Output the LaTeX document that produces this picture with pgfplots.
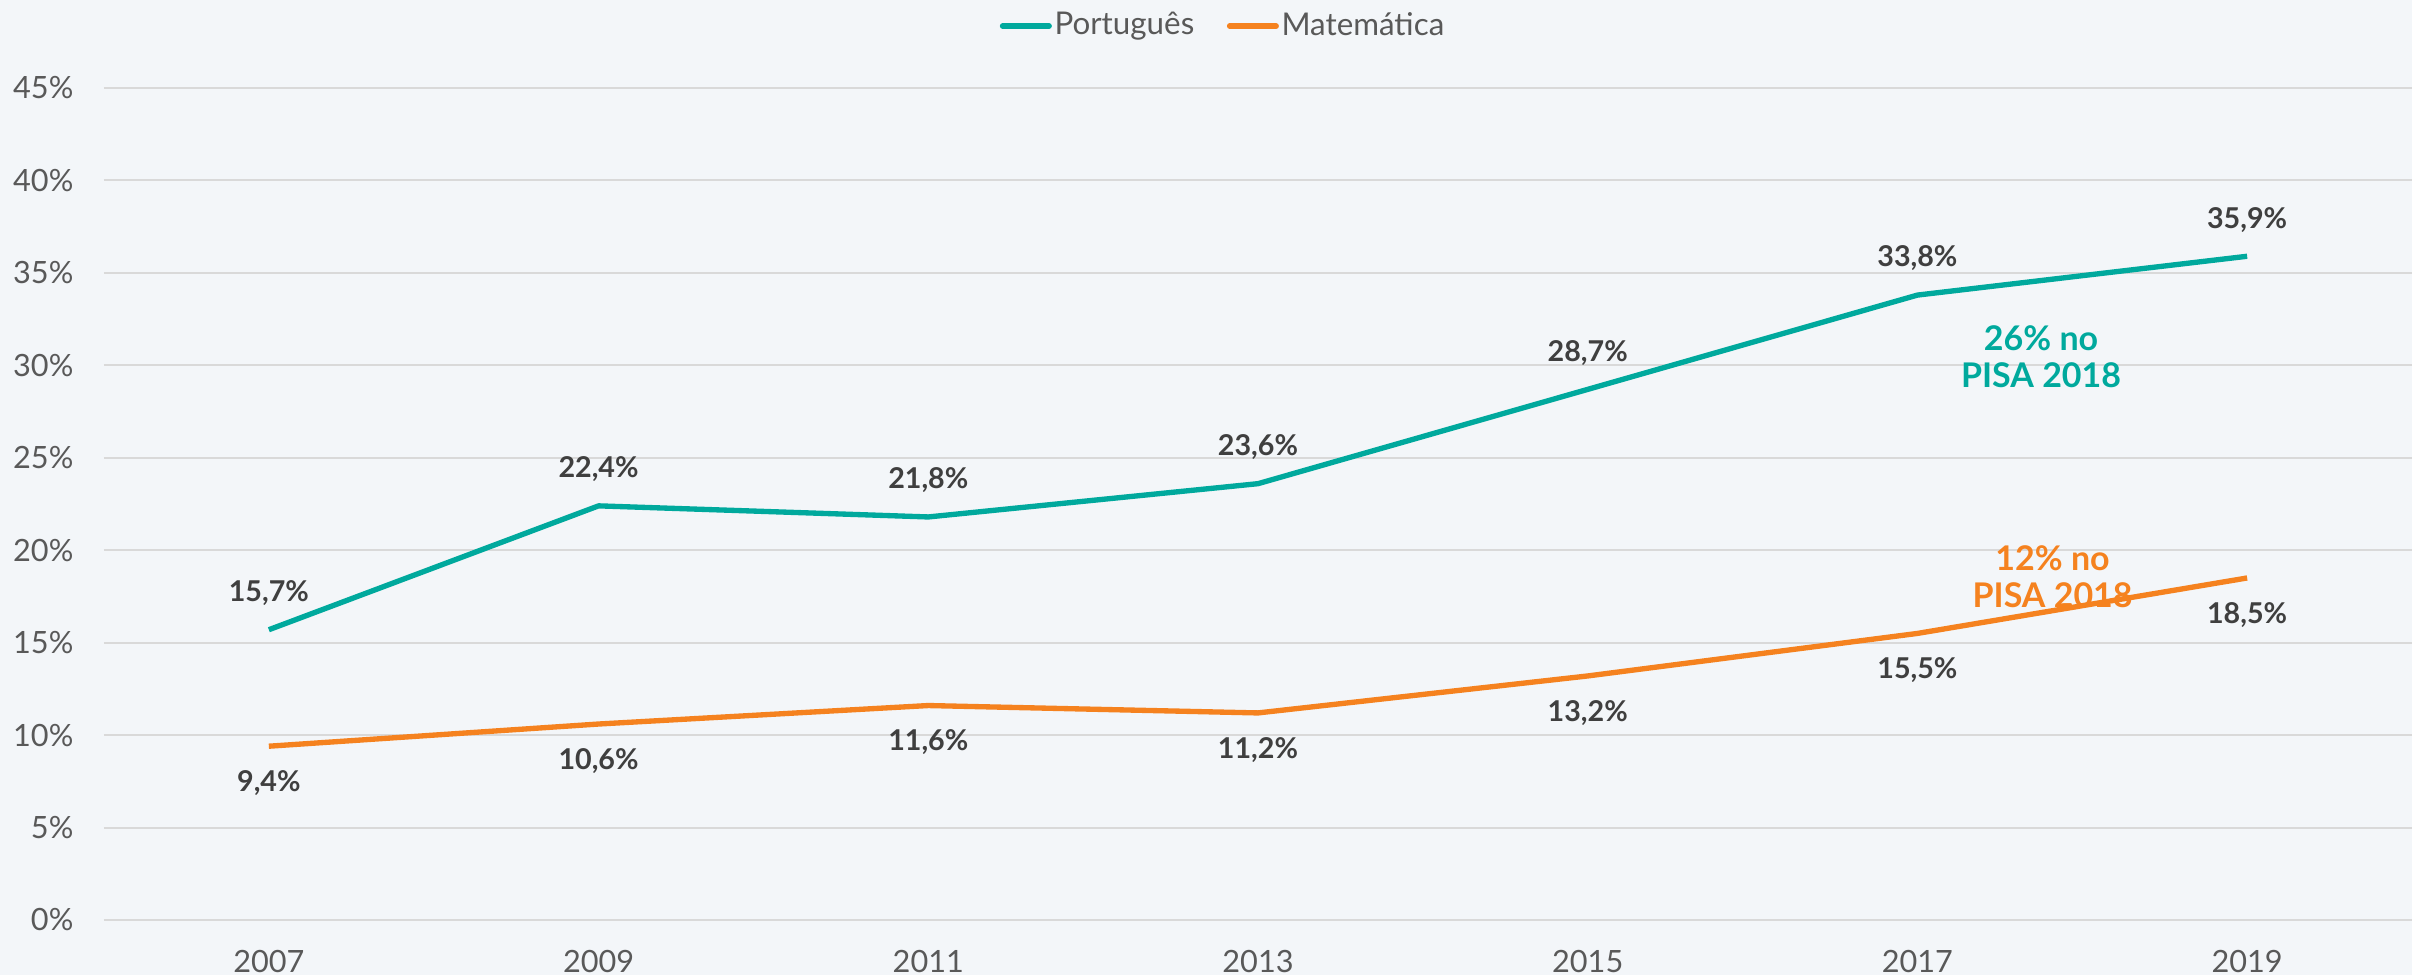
\documentclass[border=0pt]{standalone}
\usepackage{pgfplots}
\pgfplotsset{compat=1.18}
\usepackage{fontspec}
\setmainfont{Lato}
\definecolor{bg}{HTML}{F3F6F9}
\definecolor{tealc}{HTML}{00A99D}
\definecolor{orng}{HTML}{F5821F}
\definecolor{gridc}{HTML}{D9D9D9}
\definecolor{tickc}{HTML}{595959}
\definecolor{lblc}{HTML}{3F3F3F}
\begin{document}
\begin{tikzpicture}
\fill[bg] (-31.2pt,-16.5pt) rectangle (692.4pt,276pt);
\path[use as bounding box] (-31.2pt,-16.5pt) rectangle (692.4pt,276pt);
\begin{axis}[
  scale only axis, width=692.4pt, height=249.6pt,
  xmin=2006, xmax=2020, ymin=0, ymax=45,
  clip=false,
  axis line style={draw=none},
  tick style={draw=none},
  xtick={2007,2009,2011,2013,2015,2017,2019},
  xticklabels={2007,2009,2011,2013,2015,2017,2019},
  ytick={0,5,10,15,20,25,30,35,40,45},
  yticklabels={0\%,5\%,10\%,15\%,20\%,25\%,30\%,35\%,40\%,45\%},
  ymajorgrids, major grid style={gridc, line width=0.6pt},
  xticklabel style={inner sep=0pt, anchor=north, yshift=-9pt, font=\fontsize{9.2}{11}\selectfont, text=tickc},
  yticklabel style={inner sep=0pt, anchor=east, xshift=-9pt, font=\fontsize{9.2}{11}\selectfont, text=tickc},
  /pgf/number format/assume math mode=true,
  nodes near coords={\pgfmathprintnumber[fixed,fixed zerofill,precision=1,use comma,assume math mode=true]{\pgfplotspointmeta}\%},
  every node near coord/.append style={font=\bfseries\fontsize{8.6}{10}\selectfont, text=lblc, anchor=center},
  legend style={at={(0.485,1.0745)}, anchor=center, draw=none, fill=none,
    font=\fontsize{9.4}{11}\selectfont, text=tickc, nodes={inner xsep=0.8pt},
    /tikz/every even column/.append style={column sep=9pt}},
  legend columns=2,
  legend image code/.code={\draw[#1,line cap=round] (0pt,0pt) -- (14pt,0pt);},
]
\addplot[tealc, line width=1.6pt, line join=round, every node near coord/.append style={yshift=11pt}] coordinates {
  (2007,15.7) (2009,22.4) (2011,21.8) (2013,23.6) (2015,28.7) (2017,33.8) (2019,35.9)};
\addlegendentry{Português}
\addplot[orng, line width=1.6pt, line join=round, every node near coord/.append style={yshift=-11pt}] coordinates {
  (2007,9.4) (2009,10.6) (2011,11.6) (2013,11.2) (2015,13.2) (2017,15.5) (2019,18.5)};
\addlegendentry{Matemática}
\node[font=\bfseries\fontsize{10.2}{11.2}\selectfont, text=tealc, align=center] at (axis cs:2017.75,30.45) {26\% no\\PISA 2018};
\node[font=\bfseries\fontsize{10.2}{11.2}\selectfont, text=orng, align=center] at (axis cs:2017.82,18.55) {12\% no\\PISA 2018};
\end{axis}
\end{tikzpicture}
\end{document}
